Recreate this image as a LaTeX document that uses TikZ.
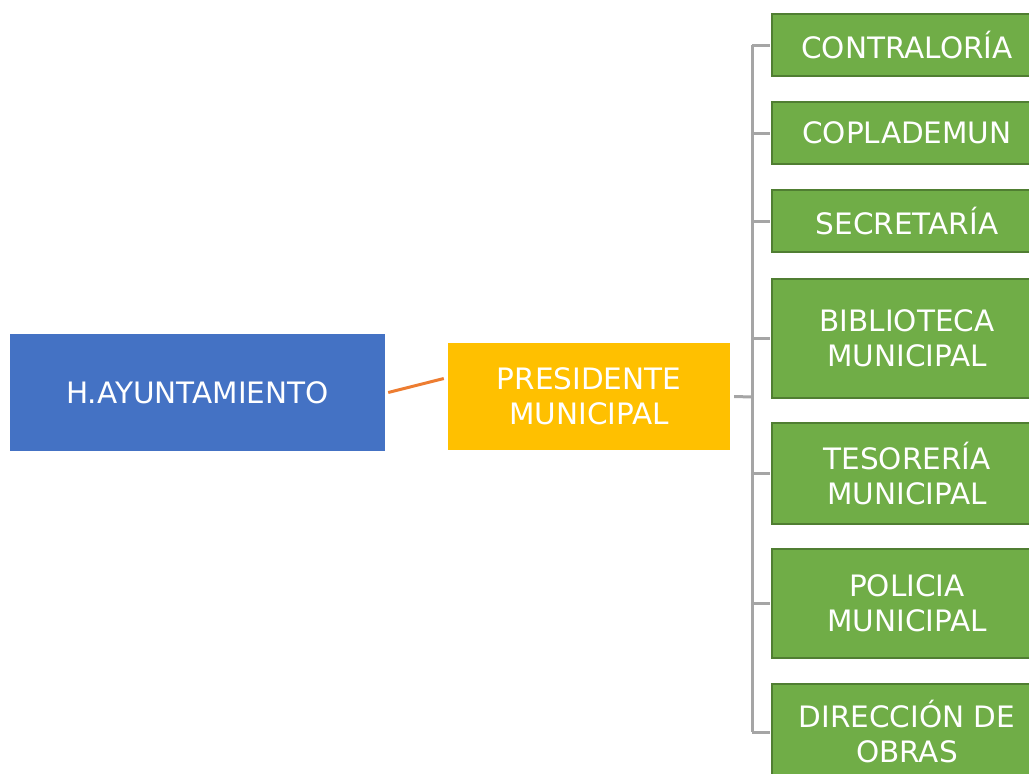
\documentclass[tikz,border=0pt]{standalone}
\usepackage{fontspec}
\setmainfont{DejaVu Sans}
\usepackage{xcolor}
\definecolor{aytoblue}{HTML}{4472C4}
\definecolor{presyellow}{HTML}{FFC000}
\definecolor{areagreen}{HTML}{70AD47}
\definecolor{areaedge}{HTML}{507E32}
\definecolor{linkorange}{HTML}{ED7D31}
\definecolor{linkgray}{HTML}{A5A5A5}

\begin{document}
\begin{tikzpicture}[x=1pt,y=-1pt,
  box/.style={inner sep=0pt, align=center, text=white,
    font=\fontsize{29.5}{35}\selectfont},
  areabox/.style={box, fill=areagreen, draw=areaedge, line width=2pt,
    minimum width=270pt},
  graylink/.style={draw=linkgray, line width=3pt}]
\useasboundingbox (0,0) rectangle (1029,774);
\clip (0,0) rectangle (1029,774);
%Main boxes
\node (ayto) at (197.5,392.5) [box, fill=aytoblue, minimum width=375pt, minimum height=117pt] {H.AYUNTAMIENTO};
\node (pres) at (589,396.5) [box, fill=presyellow, minimum width=282pt, minimum height=107pt] {PRESIDENTE\\MUNICIPAL};
%Areas
\node (contra) at (907,45) [areabox, minimum height=62pt] {CONTRALORÍA};
\node (coplade) at (907,133) [areabox, minimum height=62pt] {COPLADEMUN};
\node (secre) at (907,221) [areabox, minimum height=62pt] {SECRETARÍA};
\node (biblio) at (907,338) [areabox, minimum height=119pt] {BIBLIOTECA\\MUNICIPAL};
\node (teso) at (907,473.5) [areabox, minimum height=101pt] {TESORERÍA\\MUNICIPAL};
\node (policia) at (907,603.5) [areabox, minimum height=109pt] {POLICIA\\MUNICIPAL};
\node (obras) at (907,732) [areabox, minimum height=96pt] {DIRECCIÓN DE\\OBRAS};
%Links
\draw [draw=linkorange, line width=3pt] ([xshift=3pt]ayto.east) -- ([xshift=-4pt,yshift=18pt]pres.west);
\coordinate (bus) at (752,397);
\draw [graylink] ([xshift=4pt]pres.east) -- (bus);
\draw [graylink] (bus |- contra.west) -- (bus |- obras.west);
\foreach \area in {contra,coplade,secre,biblio,teso,policia,obras}
  \draw [graylink] (bus |- \area.west) -- ([xshift=-1pt]\area.west);
\end{tikzpicture}
\end{document}
